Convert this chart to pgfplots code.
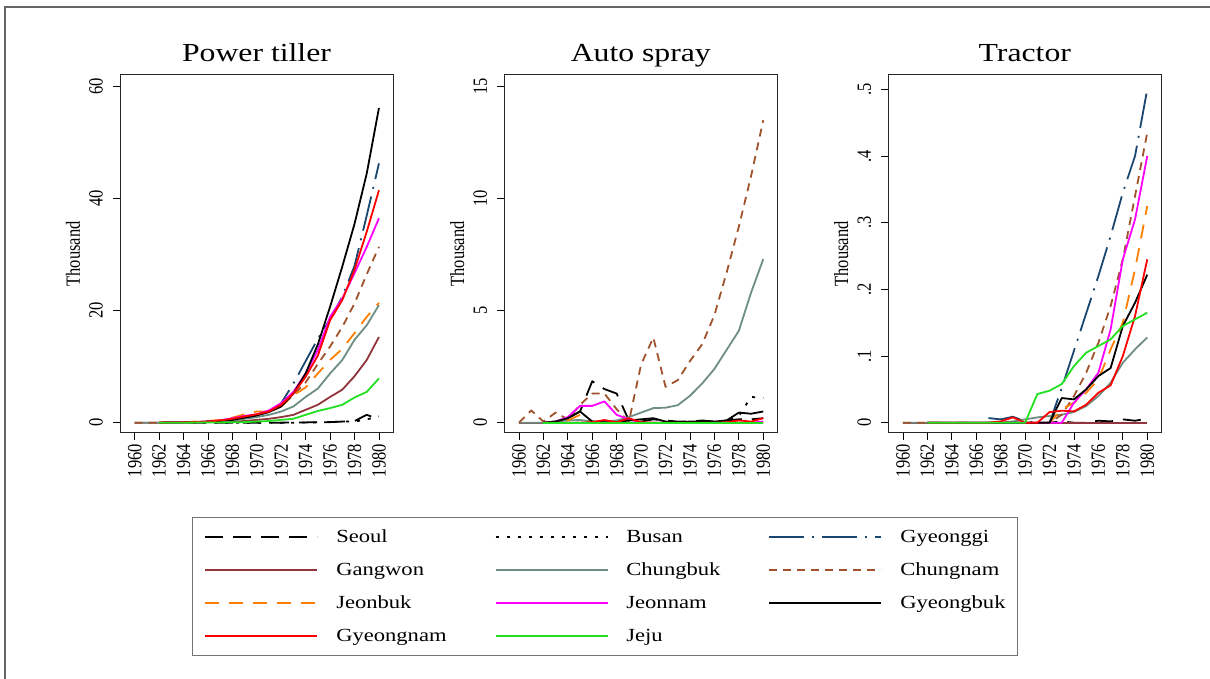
\documentclass[border=0pt]{standalone}
\usepackage{fontspec}
\setmainfont{Liberation Serif}
\newfontfamily\widefont{Liberation Serif}[FakeStretch=1.22]
\usepackage{pgfplots}
\usepackage{pgfplotstable}
\pgfplotsset{compat=1.18}
\definecolor{cNavy}{HTML}{1A476F}
\definecolor{cMaroon}{HTML}{90353B}
\definecolor{cTeal}{HTML}{6E8E84}
\definecolor{cSienna}{HTML}{A0522D}
\definecolor{cOrange}{HTML}{FF7F00}
\definecolor{cMagenta}{HTML}{FF00FF}
\definecolor{cRed}{HTML}{FF0000}
\definecolor{cLime}{HTML}{22E022}

\pgfplotstableread{
year Seo Bus Gyg Gan Cbk Cnm Jbk Jnm Gbk Gnm Jej
1960 nan nan nan 0 0 0 nan nan nan nan nan
1961 nan nan nan 0 0 0 nan nan nan nan nan
1962 0 0 0 0 0 0 0 0 0 0 0
1963 0 0 0.02 0.02 0.02 0.03 0.05 0.03 0.02 0.03 0
1964 0 0 0.05 0.04 0.04 0.06 0.1 0.06 0.05 0.06 0
1965 0 0 0.1 0.06 0.08 0.1 0.2 0.12 0.1 0.12 0.02
1966 0 0 0.2 0.1 0.15 0.2 0.3 0.2 0.2 0.2 0.03
1967 0 0 0.35 0.15 0.25 0.4 0.5 0.4 0.3 0.4 0.05
1968 0 0 0.6 0.2 0.4 0.7 0.9 0.8 0.5 0.7 0.07
1969 0 0 0.9 0.3 0.7 1.0 1.5 1.2 0.9 1.1 0.1
1970 0 0 1.3 0.5 1.0 1.4 2.0 1.5 1.3 1.5 0.2
1971 0 0 2.0 0.7 1.4 1.9 2.0 2.2 1.9 2.0 0.3
1972 0 0 3.5 1.0 2.0 2.9 2.9 3.5 2.9 3.2 0.5
1973 0.05 0 7.0 1.4 2.9 5.0 4.9 5.5 5.2 5.2 0.7
1974 0.05 0.05 11.0 2.3 4.6 7.2 6.3 8.8 8.8 8.2 1.4
1975 0.1 0.05 15.0 3.2 6.1 10.5 8.8 13.0 14.0 12.0 2.1
1976 0.1 0.1 18.5 4.6 8.8 13.6 11.2 18.9 20.7 18.3 2.6
1977 0.2 0.2 22.5 5.9 11.2 17.1 13.2 22.2 27.9 21.9 3.2
1978 0.3 0.2 28.0 8.3 14.8 21.3 16.0 26.7 35.5 27.3 4.5
1979 1.4 0.6 37.0 11.2 17.4 26.5 18.9 31.4 44.5 34.1 5.5
1980 0.6 1.1 46.3 15.3 21.0 31.4 21.4 36.5 56.2 41.5 7.9
}\PT

\pgfplotstableread{
year Seo Bus Gyg Gan Cbk Cnm Jbk Jnm Gbk Gnm Jej
1960 nan nan nan 0 0 0 nan nan nan nan nan
1961 nan nan nan 0 0 0.55 nan nan nan nan nan
1962 0 0 0 0 0 0.05 0 0 0 0 0
1963 0.05 0 0 0 0.05 0.45 0 0.05 0.05 0 0
1964 0.2 0 0 0 0.1 0.15 0.1 0.25 0.2 0 0
1965 0.5 0 0 0 0.12 0.8 0.35 0.75 0.5 0 0
1966 1.85 0 0 0 0.05 1.3 0.05 0.75 0.05 0.02 0
1967 1.5 0 0 0 0.05 1.3 0 0.95 0.02 0.12 0
1968 1.3 0 0 0 0.1 0.6 0 0.35 0.02 0.02 0
1969 0.1 0 0 0 0.25 0.05 0 0.15 0.1 0.2 0
1970 0.05 0 0 0 0.45 2.6 0 0 0.15 0.02 0
1971 0.15 0 0 0 0.65 3.8 0 0 0.2 0 0
1972 0.1 0 0 0 0.67 1.6 0 0 0.05 0 0
1973 0.05 0 0 0 0.78 1.9 0 0 0.02 0 0
1974 0.05 0.02 0 0 1.2 2.75 0 0 0.05 0 0
1975 0.1 0.02 0 0 1.75 3.5 0 0 0.05 0 0
1976 0.05 0.05 0 0 2.4 4.8 0 0 0.05 0 0
1977 0.1 0.1 0 0 3.25 6.7 0 0 0.1 0.02 0
1978 0.15 0.3 0 0 4.1 8.75 0 0 0.45 0.1 0
1979 0.15 1.15 0 0 5.8 11.0 0 0 0.4 0.05 0
1980 0.2 1.1 0 0 7.3 13.5 0 0.05 0.5 0.2 0
}\AS

\pgfplotstableread{
year Seo Bus Gyg Gan Cbk Cnm Jbk Jnm Gbk Gnm Jej
1960 nan nan nan 0 0 0 nan nan nan nan nan
1961 nan nan nan 0 0 0 nan nan nan nan nan
1962 0 0 nan 0 0 0 0 0 0 0 0
1963 0 0 nan 0 0 0 0 0 0 0 0
1964 0 0 nan 0 0 0 0 0 0 0 0
1965 0 0 nan 0 0 0 0 0 0 0 0
1966 0 0 nan 0 0 0 0 0 0 0 0
1967 0 0 0.007 0 0 0 0 0 0 0 0
1968 0 0 0.005 0 0 0 0 0 0 0.002 0
1969 0 0 0.009 0 0.002 0 0 0 0 0.008 0
1970 0 0 0.002 0 0.005 0 0 0 0 0 0
1971 0 0 0 0 0.008 0 0 0 0 0 0.043
1972 0 0 0 0 0.01 0 0 0 0 0.016 0.048
1973 0.002 0 0.052 0 0.012 0.012 0.02 0 0.037 0.018 0.058
1974 0 0 0.108 0 0.016 0.04 0.03 0.03 0.035 0.017 0.085
1975 0 0 0.164 0 0.025 0.075 0.045 0.05 0.05 0.027 0.105
1976 0.003 0 0.22 0 0.04 0.12 0.065 0.075 0.07 0.045 0.115
1977 0.002 0 0.28 0 0.06 0.175 0.11 0.14 0.082 0.056 0.125
1978 0.005 0 0.345 0 0.09 0.245 0.15 0.245 0.145 0.1 0.145
1979 0.003 0 0.4 0 0.11 0.34 0.23 0.305 0.18 0.16 0.155
1980 0.006 0 0.5 0 0.128 0.435 0.325 0.4 0.222 0.245 0.165
}\TR

\tikzset{
  sSeo/.style={black, dash pattern=on 18pt off 10pt},
  sBus/.style={black, dash pattern=on 3pt off 8pt},
  sGyg/.style={cNavy, dash pattern=on 35pt off 8pt on 2pt off 8pt},
  sGan/.style={cMaroon},
  sCbk/.style={cTeal},
  sCnm/.style={cSienna, dash pattern=on 8pt off 6pt},
  sJbk/.style={cOrange, dash pattern=on 14pt off 10pt},
  sJnm/.style={cMagenta},
  sGbk/.style={black},
  sGnm/.style={cRed},
  sJej/.style={cLime},
}

\newcommand\allplots[1]{%
  \addplot[sSeo] table[x=year,y=Seo]{#1};
  \addplot[sBus] table[x=year,y=Bus]{#1};
  \addplot[sGyg] table[x=year,y=Gyg]{#1};
  \addplot[sGan] table[x=year,y=Gan]{#1};
  \addplot[sCbk] table[x=year,y=Cbk]{#1};
  \addplot[sCnm] table[x=year,y=Cnm]{#1};
  \addplot[sJbk] table[x=year,y=Jbk]{#1};
  \addplot[sJnm] table[x=year,y=Jnm]{#1};
  \addplot[sGbk] table[x=year,y=Gbk]{#1};
  \addplot[sGnm] table[x=year,y=Gnm]{#1};
  \addplot[sJej] table[x=year,y=Jej]{#1};
}

\pgfplotsset{
  panel/.style={
    scale only axis, width=273pt, height=358pt,
    anchor=north west,
    xmin=1958.8, xmax=1981.15,
    xtick={1960,1962,1964,1966,1968,1970,1972,1974,1976,1978,1980},
    xticklabels={1960,1962,1964,1966,1968,1970,1972,1974,1976,1978,1980},
    tick pos=left, tick align=outside,
    major tick length=7pt,
    tick style={black, line width=0.8pt},
    axis line style={black!85, line width=1pt},
    tick label style={font=\fontsize{16.5}{18}\selectfont},
    xticklabel style={rotate=90, yscale=1.22, anchor=east, inner sep=0pt, xshift=-4pt},
    yticklabel style={rotate=90, yscale=1.22, anchor=south, inner sep=0pt, yshift=8.2pt},
    ylabel={Thousand},
    ylabel style={font=\fontsize{16.5}{18}\selectfont, at={(axis description cs:-0.172,0.5)}, anchor=center, rotate=0, yscale=1.22},
    title style={font=\widefont\fontsize{26}{28}\selectfont, at={(axis description cs:0.5,1.0196)}, anchor=base},
    every axis plot/.append style={line width=1.8pt, line join=round, no markers},
    legend image code/.code={\draw[##1, line width=1.8pt, line cap=butt] (0pt,0pt) -- (112pt,0pt);},
  },
}

\begin{document}
\begin{tikzpicture}
\useasboundingbox (0,0) rectangle (1210pt,679pt);
\fill[white] (0,0) rectangle (1210pt,679pt);
\draw[black!60, line width=1.2pt] (5pt,0pt) -- (5pt,672pt) -- (1210pt,672pt);

\begin{axis}[panel, at={(120pt,604pt)},
  title={Power tiller},
  ymin=-1.84, ymax=62.09,
  ytick={0,20,40,60}, yticklabels={0,20,40,60},
  legend columns=3,
  legend cell align=left,
  legend entries={Seoul,Busan,Gyeonggi,Gangwon,Chungbuk,Chungnam,Jeonbuk,Jeonnam,Gyeongbuk,Gyeongnam,Jeju},
  legend style={
    at={(axis description cs:0.2637,-0.2346)}, anchor=north west,
    draw=black!55, line width=1pt,
    inner xsep=12pt, inner ysep=11.5pt,
    font=\widefont\fontsize{18.5}{20}\selectfont,
    row sep=17pt,
    nodes={inner sep=0pt, text height=14pt, text depth=2pt},
    /tikz/every odd column/.append style={column sep=18pt},
    /tikz/every even column/.append style={column sep=48pt},
  },
]
\allplots{\PT}
\end{axis}

\begin{axis}[panel, at={(504.3pt,604pt)},
  title={Auto spray},
  ymin=-0.46, ymax=15.52,
  ytick={0,5,10,15}, yticklabels={0,5,10,15},
]
\allplots{\AS}
\end{axis}

\begin{axis}[panel, at={(888.3pt,604pt)},
  title={Tractor},
  ymin=-0.0154, ymax=0.5214,
  ytick={0,0.1,0.2,0.3,0.4,0.5}, yticklabels={0,.1,.2,.3,.4,.5},
]
\allplots{\TR}
\end{axis}
\end{tikzpicture}
\end{document}
